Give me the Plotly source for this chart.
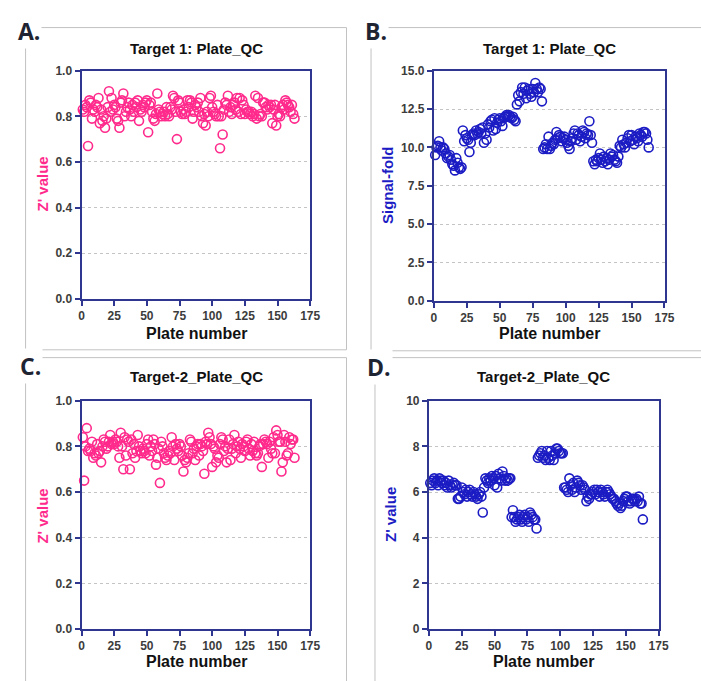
import plotly.graph_objects as go

W, H = 701, 681

# ---------------- data ----------------
plates = list(range(1, 164))

t1_zprime = [
    0.83, 0.82, 0.85, 0.84, 0.67, 0.87, 0.86, 0.79, 0.83, 0.82,
    0.85, 0.84, 0.88, 0.77, 0.83, 0.78, 0.80, 0.75, 0.79, 0.84,
    0.91, 0.82, 0.88, 0.83, 0.85, 0.84, 0.79, 0.78, 0.75, 0.86,
    0.87, 0.90, 0.80, 0.82, 0.84, 0.86, 0.83, 0.80, 0.85, 0.82,
    0.86, 0.84, 0.87, 0.78, 0.83, 0.82, 0.85, 0.84, 0.86, 0.87,
    0.73, 0.85, 0.86, 0.82, 0.79, 0.78, 0.81, 0.90, 0.83, 0.82,
    0.80, 0.81, 0.82, 0.80, 0.84, 0.81, 0.80, 0.84, 0.83, 0.89,
    0.88, 0.82, 0.70, 0.87, 0.86, 0.82, 0.81, 0.83, 0.81, 0.82,
    0.87, 0.84, 0.87, 0.86, 0.79, 0.82, 0.85, 0.84, 0.86, 0.82,
    0.88, 0.80, 0.77, 0.81, 0.76, 0.82, 0.80, 0.88, 0.89, 0.84,
    0.82, 0.81, 0.80, 0.85, 0.80, 0.66, 0.80, 0.72, 0.83, 0.86,
    0.85, 0.89, 0.82, 0.84, 0.81, 0.85, 0.86, 0.83, 0.88, 0.82,
    0.88, 0.81, 0.87, 0.85, 0.81, 0.83, 0.82, 0.82, 0.81, 0.82,
    0.80, 0.81, 0.89, 0.79, 0.88, 0.80, 0.81, 0.80, 0.86, 0.86,
    0.84, 0.83, 0.85, 0.84, 0.85, 0.77, 0.83, 0.85, 0.76, 0.80,
    0.81, 0.80, 0.84, 0.85, 0.83, 0.87, 0.86, 0.85, 0.84, 0.82,
    0.85, 0.81, 0.79,
]

t1_signal_fold = [
    9.5, 10.0, 10.1, 10.4, 10.0, 9.8, 10.0, 9.9, 9.6, 9.3,
    9.4, 9.5, 9.2, 8.9, 8.8, 8.5, 9.3, 9.0, 8.7, 8.6,
    8.7, 11.1, 10.4, 10.8, 10.6, 10.5, 9.7, 10.3, 10.8, 10.9,
    10.8, 11.1, 10.9, 11.0, 11.2, 10.9, 11.3, 10.3, 10.9, 10.5,
    11.5, 11.3, 11.7, 11.8, 11.1, 11.9, 11.2, 11.6, 11.8, 11.9,
    11.7, 11.4, 11.9, 12.0, 12.1, 12.0, 12.1, 12.0, 11.9, 12.0, 11.8, 11.7,
    12.8, 13.4, 13.0, 13.6, 13.9, 13.5, 13.9, 13.2, 13.7, 13.8,
    13.5, 13.3, 13.8, 13.6, 14.2, 13.8, 13.6, 13.9, 13.8, 13.0,
    9.9, 10.0, 10.2, 9.9, 10.7, 9.9, 10.1, 10.3, 10.2, 10.5,
    11.0, 10.6, 10.8, 10.7, 10.4, 10.6, 10.7, 10.5, 10.3, 10.1,
    9.9, 10.4, 10.6, 10.9, 11.1, 10.5, 10.9, 10.8, 10.4, 10.7,
    11.1, 11.0, 10.6, 10.9, 10.8, 11.7, 10.8, 10.3,
    9.1, 8.9, 9.2, 9.1, 9.3, 9.6, 9.2, 9.0, 9.4, 9.1,
    9.3, 8.9, 9.2, 9.6, 9.4, 9.5, 9.2, 9.1, 9.0, 9.4,
    10.1, 10.0, 10.5, 10.2, 10.0, 10.3, 10.6, 10.8, 10.4, 10.8,
    10.5, 10.2, 10.7, 10.6, 10.4, 10.9, 10.8, 10.7, 11.0, 11.0, 10.9, 10.5, 10.0,
]

t2_zprime = [
    0.84, 0.65, 0.80, 0.88, 0.78, 0.79, 0.78, 0.82, 0.75, 0.77,
    0.76, 0.81, 0.77, 0.78, 0.73, 0.80, 0.83, 0.82, 0.79, 0.80,
    0.82, 0.85, 0.81, 0.82, 0.81, 0.83, 0.82, 0.80, 0.75, 0.86,
    0.80, 0.70, 0.84, 0.76, 0.83, 0.82, 0.70, 0.83, 0.77, 0.81,
    0.75, 0.78, 0.85, 0.80, 0.78, 0.77, 0.79, 0.78, 0.77, 0.81,
    0.83, 0.76, 0.80, 0.78, 0.83, 0.81, 0.72, 0.75, 0.79, 0.64,
    0.82, 0.80, 0.77, 0.75, 0.74, 0.76, 0.78, 0.77, 0.84, 0.80,
    0.74, 0.81, 0.79, 0.78, 0.81, 0.80, 0.76, 0.69, 0.74, 0.73,
    0.75, 0.77, 0.83, 0.82, 0.77, 0.79, 0.74, 0.80, 0.81, 0.76,
    0.81, 0.80, 0.78, 0.68, 0.82, 0.81, 0.86, 0.84, 0.81, 0.71,
    0.80, 0.79, 0.73, 0.76, 0.75, 0.81, 0.84, 0.83, 0.78, 0.80,
    0.73, 0.79, 0.83, 0.74, 0.79, 0.81, 0.85, 0.77, 0.80, 0.82,
    0.79, 0.75, 0.81, 0.80, 0.78, 0.82, 0.83, 0.79, 0.76, 0.81,
    0.78, 0.82, 0.77, 0.76, 0.77, 0.80, 0.81, 0.71, 0.81, 0.83,
    0.82, 0.81, 0.75, 0.82, 0.79, 0.77, 0.84, 0.77, 0.87, 0.85,
    0.82, 0.82, 0.69, 0.73, 0.85, 0.82, 0.76, 0.77, 0.84, 0.81, 0.83, 0.83, 0.75,
]

t2_signal = [
    6.4, 6.3, 6.5, 6.6, 6.4, 6.5, 6.3, 6.6, 6.5, 6.4,
    6.5, 6.3, 6.4, 6.2, 6.5, 6.3, 6.2, 6.3, 6.4, 6.3,
    6.3, 5.7, 5.7, 5.8, 6.2, 6.0, 5.9, 6.1, 5.8, 6.0,
    6.1, 5.9, 5.8, 6.0, 5.9, 5.8, 5.7, 5.9, 6.0, 5.8,
    5.1, 6.2, 6.6, 6.5, 6.4, 6.6, 6.5, 6.7, 6.6, 6.3,
    6.7, 6.2, 6.8, 6.6, 6.5, 6.9, 6.7, 6.5, 6.6, 6.5, 6.6, 6.6,
    4.9, 5.2, 4.9, 4.7, 4.8, 4.9, 5.0, 4.8, 4.7, 4.9,
    5.0, 4.8, 4.9, 4.7, 5.1, 5.0, 4.9, 4.8, 4.8, 4.4,
    7.5, 7.6, 7.7, 7.8, 7.5, 7.6, 7.4, 7.8, 7.5, 7.4,
    7.8, 7.6, 7.4, 7.7, 7.9, 7.9, 7.8, 7.7, 7.7, 7.7,
    6.2, 6.2, 6.1, 6.0, 6.6, 6.3, 6.1, 6.4, 6.0, 6.2,
    6.5, 6.4, 6.3, 6.1, 6.3, 6.2, 6.1, 5.6,
    5.8, 5.7, 5.9, 5.9, 6.0, 6.1, 5.9, 6.1, 6.0, 5.8,
    6.1, 6.0, 5.9, 5.8, 6.0, 6.1, 6.0, 5.9, 5.8, 5.7,
    5.7, 5.6, 5.5, 5.4, 5.5, 5.3, 5.4, 5.6, 5.7, 5.8,
    5.8, 5.6, 5.5, 5.6, 5.7, 5.7, 5.6, 5.7, 5.6, 5.8, 5.5, 5.5, 4.8,
]

x_ticks = [0, 25, 50, 75, 100, 125, 150, 175]

panels = [
    dict(letter="A.", title="Target 1: Plate_QC", y=t1_zprime, ytitle="Z' value",
         color="#ff2a8c", yrange=[0, 1], ytick=0.2, yfmt=".1f"),
    dict(letter="B.", title="Target 1: Plate_QC", y=t1_signal_fold, ytitle="Signal-fold",
         color="#1c1cc4", yrange=[0, 15], ytick=2.5, yfmt=".1f"),
    dict(letter="C.", title="Target-2_Plate_QC", y=t2_zprime, ytitle="Z' value",
         color="#ff2a8c", yrange=[0, 1], ytick=0.2, yfmt=".1f"),
    dict(letter="D.", title="Target-2_Plate_QC", y=t2_signal, ytitle="Z' value",
         color="#1c1cc4", yrange=[0, 10], ytick=2, yfmt="d"),
]

# ---------------- layout geometry (pixels) ----------------
plot_px = [  # x0, x1, y0(top), y1(bottom)
    (80, 313, 65, 298),
    (439, 674, 65, 300),
    (80, 313, 402, 635),
    (434, 668, 402, 635),
]
letter_px = [(26, 24), (380, 24), (28, 367), (383, 368)]
title_px = [(197, 42), (557, 42), (197, 377), (551, 377)]
ytitle_px = [(40, 181), (392, 182), (40, 520), (395, 518)]
xtitle_px = [(197, 333), (557, 333), (197, 668), (551, 668)]
frames_px = [(23, 21, 350, 350), (375, 21, 720, 351),
             (23, 358, 350, 700), (379, 358, 720, 700)]

def fx(px):
    return px / W

def fy(py):
    return 1 - py / H

AXIS = "#2e3690"
TICKFONT = dict(family="Liberation Sans, Arial", size=12, color="#3c3c3c", weight="bold")

fig = go.Figure()
annotations = []
shapes = []

for i, p in enumerate(panels):
    k = "" if i == 0 else str(i + 1)
    x0, x1, y0, y1 = plot_px[i]
    fig.add_trace(go.Scatter(
        x=plates, y=p["y"], mode="markers",
        xaxis="x" + k, yaxis="y" + k,
        marker=dict(symbol="circle-open", size=9, color=p["color"],
                    line=dict(width=1.6, color=p["color"])),
        showlegend=False, cliponaxis=False,
    ))
    fig.layout["xaxis" + k] = dict(
        domain=[fx(x0), fx(x1)], range=[0, 175], anchor="y" + k,
        tickvals=x_ticks, showgrid=False, zeroline=False,
        showline=True, mirror=True, linecolor=AXIS, linewidth=2,
        ticks="outside", ticklen=5, tickwidth=2, tickcolor=AXIS,
        tickfont=TICKFONT, fixedrange=True,
    )
    fig.layout["yaxis" + k] = dict(
        domain=[fy(y1), fy(y0)], range=p["yrange"], anchor="x" + k,
        dtick=p["ytick"], tick0=0, tickformat=p["yfmt"],
        showgrid=True, gridcolor="#c4c4c4", gridwidth=1, griddash="dot",
        zeroline=False,
        showline=True, mirror=True, linecolor=AXIS, linewidth=2,
        ticks="outside", ticklen=5, tickwidth=2, tickcolor=AXIS,
        tickfont=TICKFONT, fixedrange=True,
    )
    # frames
    fx0, fy0, fx1, fy1 = frames_px[i]
    shapes.append(dict(type="rect", xref="paper", yref="paper",
                       x0=fx(fx0), x1=fx(fx1), y0=fy(fy1), y1=fy(fy0),
                       line=dict(color="#c2c2c2", width=1), layer="below"))
    # letter
    lx, ly = letter_px[i]
    annotations.append(dict(text=p["letter"], x=fx(lx), y=fy(ly), xref="paper", yref="paper",
                            showarrow=False, xanchor="center", yanchor="middle",
                            bgcolor="white",
                            font=dict(family="Open Sans", size=23, color="#1e2432", weight="bold")))
    tx, ty = title_px[i]
    annotations.append(dict(text=p["title"], x=fx(tx), y=fy(ty), xref="paper", yref="paper",
                            showarrow=False, xanchor="center", yanchor="middle",
                            font=dict(family="Liberation Sans, Arial", size=15, color="#111111",
                                      weight="bold")))
    yx, yy = ytitle_px[i]
    annotations.append(dict(text=p["ytitle"], x=fx(yx), y=fy(yy), xref="paper", yref="paper",
                            showarrow=False, xanchor="center", yanchor="middle", textangle=-90,
                            font=dict(family="Liberation Sans, Arial", size=15, color=p["color"],
                                      weight="bold")))
    xx, xy = xtitle_px[i]
    annotations.append(dict(text="Plate number", x=fx(xx), y=fy(xy), xref="paper", yref="paper",
                            showarrow=False, xanchor="center", yanchor="middle",
                            font=dict(family="Liberation Sans, Arial", size=16, color="#111111",
                                      weight="bold")))

fig.update_layout(
    width=W, height=H, margin=dict(l=0, r=0, t=0, b=0),
    paper_bgcolor="white", plot_bgcolor="white",
    annotations=annotations, shapes=shapes,
)

fig.write_html(
    "out.html",
    config={"displayModeBar": False},
    post_script="document.body.style.margin='0';document.body.style.overflow='hidden';",
)
